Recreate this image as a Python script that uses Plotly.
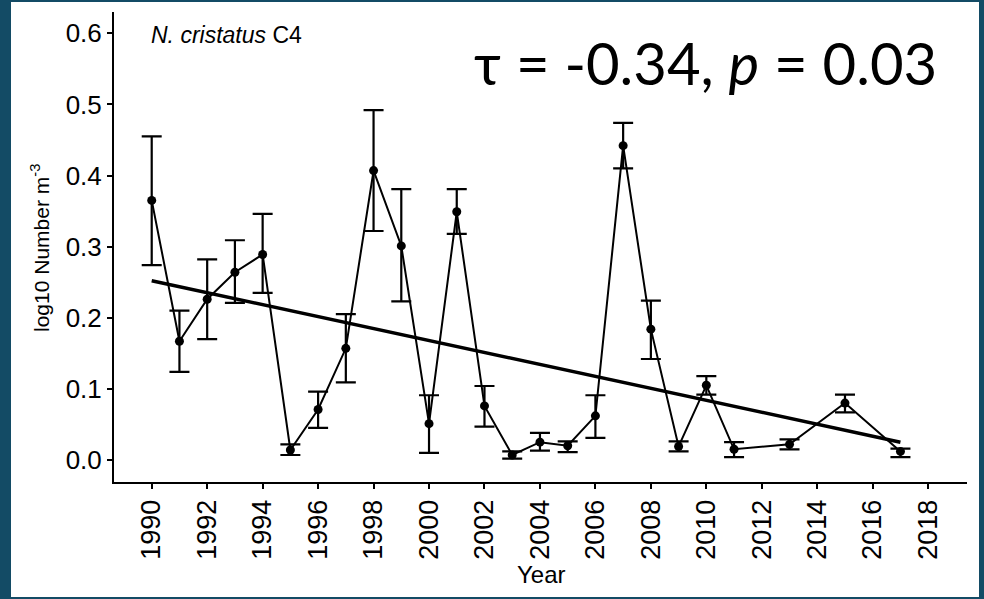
import plotly.graph_objects as go

# Annual mean abundance of N. cristatus C4 with error bars
years = [1990, 1991, 1992, 1993, 1994, 1995, 1996, 1997, 1998, 1999, 2000,
         2001, 2002, 2003, 2004, 2005, 2006, 2007, 2008, 2009, 2010, 2011,
         2013, 2015, 2017]
mean_vals = [0.365, 0.167, 0.226, 0.264, 0.289, 0.014, 0.071, 0.157, 0.407,
             0.301, 0.051, 0.349, 0.076, 0.007, 0.025, 0.020, 0.062, 0.442,
             0.184, 0.019, 0.105, 0.015, 0.022, 0.080, 0.012]
upper_vals = [0.455, 0.210, 0.282, 0.309, 0.346, 0.022, 0.096, 0.205, 0.492,
              0.381, 0.091, 0.381, 0.104, 0.012, 0.038, 0.026, 0.091, 0.474,
              0.224, 0.026, 0.118, 0.025, 0.029, 0.092, 0.016]
lower_vals = [0.274, 0.124, 0.170, 0.221, 0.235, 0.007, 0.045, 0.109, 0.322,
              0.223, 0.010, 0.318, 0.047, 0.002, 0.013, 0.011, 0.031, 0.410,
              0.142, 0.012, 0.092, 0.004, 0.015, 0.067, 0.004]

# Fitted linear trend endpoints
trend_years = [1990, 2017]
trend_vals = [0.252, 0.025]

x_ticks = list(range(1990, 2019, 2))
y_ticks = [0.0, 0.1, 0.2, 0.3, 0.4, 0.5, 0.6]

err_plus = [u - m for u, m in zip(upper_vals, mean_vals)]
err_minus = [m - l for m, l in zip(mean_vals, lower_vals)]

W, H = 984, 599
ML, MR, MT, MB = 114, 17, 12, 117
PW, PH = W - ML - MR, H - MT - MB


def px(x):
    return (x - ML) / PW


def py(y):
    return (H - MB - y) / PH


FONT = "Liberation Sans, Arial, sans-serif"
BORDER = "#134b65"

fig = go.Figure()

fig.add_trace(go.Scatter(
    x=trend_years, y=trend_vals, mode="lines",
    line=dict(color="black", width=3.5), hoverinfo="skip", showlegend=False))

fig.add_trace(go.Scatter(
    x=years, y=mean_vals, mode="lines+markers",
    line=dict(color="black", width=2),
    marker=dict(color="black", size=9),
    error_y=dict(type="data", symmetric=False, array=err_plus,
                 arrayminus=err_minus, color="black", thickness=2.2, width=10),
    showlegend=False))

fig.update_xaxes(
    range=[1988.64, 2019.40], tickmode="array", tickvals=x_ticks,
    ticktext=[str(v) for v in x_ticks], tickangle=-90,
    showgrid=False, zeroline=False, showline=True, linecolor="black",
    linewidth=2, ticks="outside", ticklen=5, tickwidth=2, tickcolor="black",
    tickfont=dict(family=FONT, size=27, color="black"), fixedrange=True)

fig.update_yaxes(
    range=[-0.031, 0.63], tickmode="array", tickvals=y_ticks,
    ticktext=[f"{v:.1f}" for v in y_ticks],
    showgrid=False, zeroline=False, showline=True, linecolor="black",
    linewidth=2, ticks="outside", ticklen=5, tickwidth=2, tickcolor="black",
    tickfont=dict(family=FONT, size=26, color="black"), fixedrange=True)

# White panel inside the dark frame
fig.add_shape(type="rect", xref="paper", yref="paper", layer="below",
              x0=px(11), x1=px(979), y0=py(597), y1=py(2),
              fillcolor="white", line=dict(width=0))

annotations = [
    dict(text="<i>N. cristatus</i> C4", x=px(149), y=py(35),
         xanchor="left", yanchor="middle",
         font=dict(family=FONT, size=23, color="black")),
    dict(text="\u03c4 = -0.34, <i>p</i> = 0.03", x=px(705), y=py(62),
         xanchor="center", yanchor="middle",
         font=dict(family="Lato, Noto Sans, sans-serif", size=58, color="black")),
    dict(text="Year", x=px(541), y=py(574), xanchor="center", yanchor="middle",
         font=dict(family=FONT, size=24, color="black")),
    dict(text="log10 Number m<sup>-3</sup>", x=px(40), y=py(248),
         xanchor="center", yanchor="middle", textangle=-90,
         font=dict(family=FONT, size=21, color="black")),
]
for a in annotations:
    a.update(xref="paper", yref="paper", showarrow=False)
fig.update_layout(annotations=annotations)

fig.update_layout(
    width=W, height=H, autosize=False,
    margin=dict(l=ML, r=MR, t=MT, b=MB, pad=0),
    paper_bgcolor=BORDER, plot_bgcolor="white",
    showlegend=False)

fig.write_html("out.html", include_plotlyjs=True, full_html=True,
               config={"displayModeBar": False})
